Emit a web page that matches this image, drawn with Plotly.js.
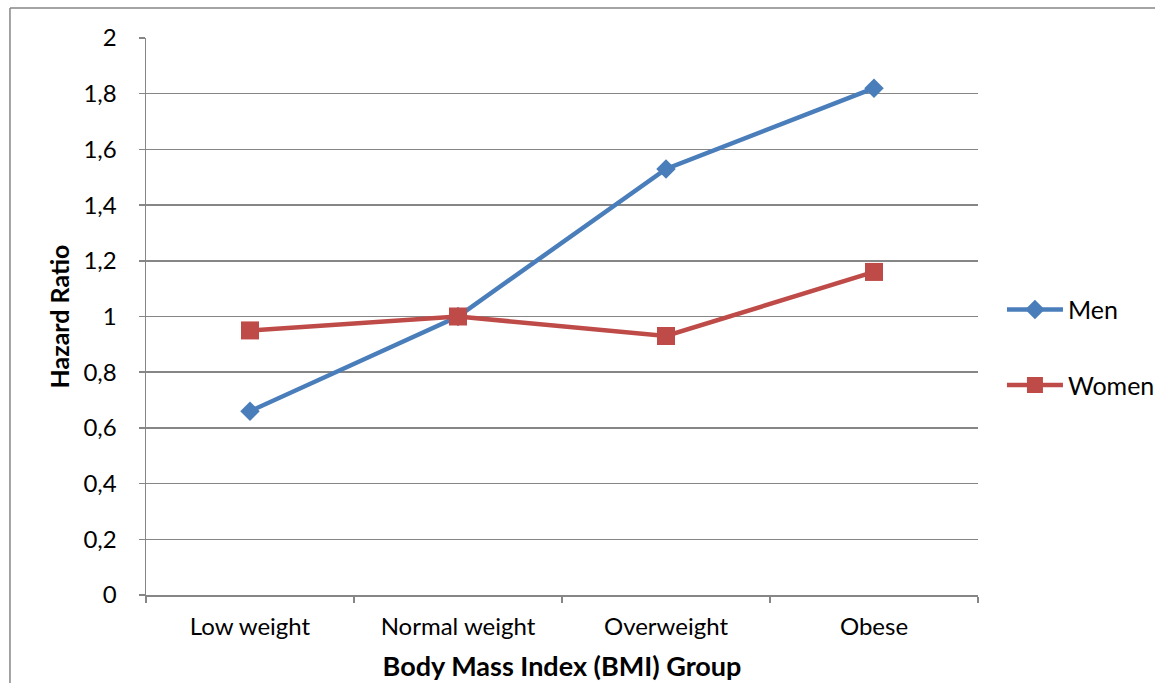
<!DOCTYPE html>
<html>
<head>
<meta charset="utf-8">
<script src="https://cdn.plot.ly/plotly-3.0.1.min.js"></script>
<style>
  html, body { margin: 0; padding: 0; background: #fff; }
  #chart { width: 1155px; height: 683px; }
</style>
</head>
<body>
<div id="chart"></div>
<script>
// BMI groups and hazard ratios by sex
const groups = ["Low weight", "Normal weight", "Overweight", "Obese"];
const men = [0.66, 1.0, 1.53, 1.82];
const women = [0.95, 1.0, 0.93, 1.16];
const yTicks = [0, 0.2, 0.4, 0.6, 0.8, 1, 1.2, 1.4, 1.6, 1.8, 2];

const FONT = "Lato, 'Open Sans', sans-serif";
const GRID = "#868686";

const traces = [
  {
    x: groups, y: men, name: "Men", type: "scatter", mode: "lines+markers",
    legendgroup: "m",
    line: { color: "#4A7EBB", width: 4.5 },
    marker: { symbol: "diamond", size: 15, color: "#4A7EBB" }
  },
  {
    x: groups, y: women, name: "Women", type: "scatter", mode: "lines+markers",
    legendgroup: "w",
    line: { color: "#BE4B48", width: 4.5 },
    marker: { symbol: "square", size: 18, color: "#BE4B48" }
  }
];

const layout = {
  width: 1155, height: 683,
  margin: { l: 146, r: 177, t: 38, b: 88, autoexpand: false },
  paper_bgcolor: "#fff", plot_bgcolor: "#fff",
  separators: ", ",
  font: { family: FONT, color: "#000", size: 24 },
  showlegend: true,
  legend: {
    x: 1.0288, xanchor: "left", y: 0.445, yanchor: "middle",
    itemwidth: 56,
    font: { family: FONT, size: 25, color: "#000" },
    tracegroupgap: 40, bgcolor: "rgba(0,0,0,0)"
  },
  xaxis: {
    type: "category", range: [-0.5, 3.5],
    showgrid: false, zeroline: false,
    showline: true, linecolor: GRID, linewidth: 1.5,
    ticks: "outside", tickson: "boundaries", ticklen: 6, tickcolor: GRID, tickwidth: 1.5,
    ticklabelstandoff: 10,
    tickfont: { family: FONT, size: 24, color: "#000" },
    title: { text: "<b>Body Mass Index (BMI) Group</b>", font: { family: FONT, size: 27, color: "#000" }, standoff: 18 }
  },
  yaxis: {
    range: [0, 2], tickvals: yTicks, tickformat: ".1~f",
    showgrid: true, gridcolor: GRID, gridwidth: 1.5, zeroline: false,
    showline: true, linecolor: GRID, linewidth: 1.5,
    ticks: "outside", ticklen: 6, tickcolor: GRID, tickwidth: 1.5,
    ticklabelstandoff: 17,
    tickfont: { family: FONT, size: 24, color: "#000" },
    title: { text: "<b>Hazard Ratio</b>", font: { family: FONT, size: 25, color: "#000" }, standoff: 6 }
  },
  shapes: [
    // outer chart frame (left and top edges visible)
    { type: "line", xref: "paper", yref: "paper", x0: -0.1635, x1: -0.1635, y0: -0.2, y1: 1.0539,
      line: { color: GRID, width: 1.5 } },
    { type: "line", xref: "paper", yref: "paper", x0: -0.1635, x1: 1.3, y0: 1.0539, y1: 1.0539,
      line: { color: GRID, width: 1.5 } }
  ]
};

Plotly.newPlot("chart", traces, layout, { displayModeBar: false, staticPlot: true });
</script>
</body>
</html>
